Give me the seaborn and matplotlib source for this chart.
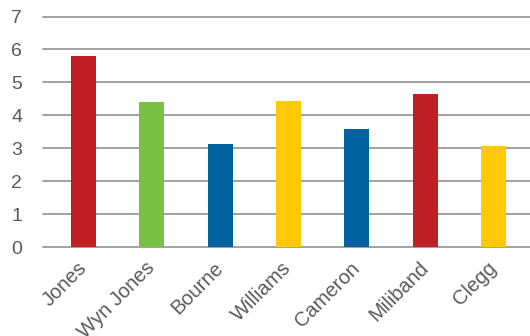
import matplotlib
matplotlib.use("Agg")
import matplotlib.pyplot as plt
import seaborn as sns
import pandas as pd

names = ["Jones", "Wyn Jones", "Bourne", "Williams", "Cameron", "Miliband", "Clegg"]
values = [5.80, 4.40, 3.13, 4.43, 3.58, 4.65, 3.07]
colors = ["#BE2026", "#7AC143", "#0063A0", "#FFC907", "#0063A0", "#BE2026", "#FFC907"]
yticks = [0, 1, 2, 3, 4, 5, 6, 7]

sns.set_theme(style="white")
plt.rcParams['font.family'] = ['Liberation Sans', 'DejaVu Sans']

df = pd.DataFrame({"name": names, "value": values})

fig = plt.figure(figsize=(5.30, 3.36), dpi=100)
ax = fig.add_axes([43/530, 1 - 247/336, (530 - 43)/530, (247 - 16.5)/336])

sns.barplot(data=df, x="name", y="value", hue="name", palette=colors,
            width=0.366, legend=False, ax=ax, saturation=1, zorder=3,
            linewidth=0, edgecolor="none")

ax.set_xlim(-0.593, 6.534)
ax.set_ylim(0, 7)
ax.set_yticks(yticks)
for y in yticks:
    ax.axhline(y, color="#9a9a9a", lw=1.3, zorder=1, clip_on=False)
for s in ax.spines.values():
    s.set_visible(False)
ax.set_xlabel("")
ax.set_ylabel("")
ax.tick_params(axis="y", length=0, pad=15, labelsize=14, labelcolor="#5a5a5a")
ax.tick_params(axis="x", length=0, pad=13, labelsize=14.5, labelcolor="#5a5a5a")
for lab in ax.get_xticklabels():
    lab.set_rotation(45)
    lab.set_ha("right")
    lab.set_va("center")
    lab.set_rotation_mode("anchor")

fig.savefig("out.png", dpi=100)
